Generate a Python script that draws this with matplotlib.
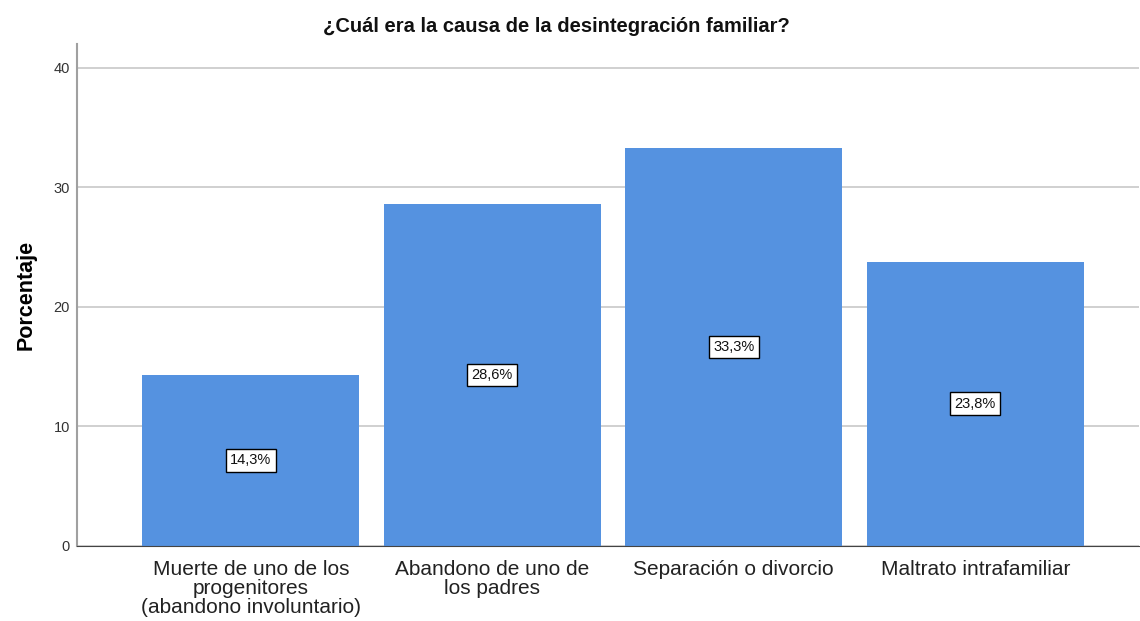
import numpy as np
import matplotlib
matplotlib.use("Agg")
import matplotlib.pyplot as plt

categories = ["Muerte de uno de los\nprogenitores\n(abandono involuntario)",
              "Abandono de uno de\nlos padres",
              "Separación o divorcio",
              "Maltrato intrafamiliar"]
percentages = [14.3, 28.6, 33.3, 23.8]
bar_labels = ["14,3%", "28,6%", "33,3%", "23,8%"]
y_ticks = [0, 10, 20, 30, 40]

plt.rcParams['font.family'] = ['Liberation Sans', 'DejaVu Sans']

fig = plt.figure(figsize=(11.4, 6.21), dpi=100)
ax = fig.add_axes([0.0675, 0.121, 0.932, 0.808])

x = np.arange(len(categories))
ax.bar(x, percentages, width=0.9, color='#5592e0', zorder=2)

# value boxes at half bar height
for xi, val, lab in zip(x, percentages, bar_labels):
    ax.text(xi, val / 2, lab, ha='center', va='center', fontsize=10.5, zorder=3, color='#111111',
            bbox=dict(boxstyle='square,pad=0.3', facecolor='white', edgecolor='black', linewidth=1))

ax.set_xlim(-0.72, 3.68)
ax.set_ylim(0, 42)
ax.set_yticks(y_ticks)
ax.set_xticks(x)
ax.set_xticklabels(categories, fontsize=15, color='#222222', linespacing=1.0)
ax.tick_params(axis='y', labelsize=10.5, length=0, pad=5, labelcolor='#333333')
ax.tick_params(axis='x', length=0, pad=10)

ax.yaxis.grid(True, color='#c8c8c8', linewidth=1.2, zorder=0)
ax.set_axisbelow(True)
ax.spines['top'].set_visible(False)
ax.spines['right'].set_visible(False)
ax.spines['left'].set_color('#a0a0a0')
ax.spines['left'].set_linewidth(1.5)
ax.spines['bottom'].set_color('#444444')

ax.set_ylabel("Porcentaje", fontsize=15.5, fontweight='bold', labelpad=12)
fig.text(0.488, 1 - 27 / 621, "¿Cuál era la causa de la desintegración familiar?",
         ha='center', va='center', fontsize=14.5, fontweight='bold', color='#111111')

plt.savefig("out.png", dpi=100)
plt.close()
